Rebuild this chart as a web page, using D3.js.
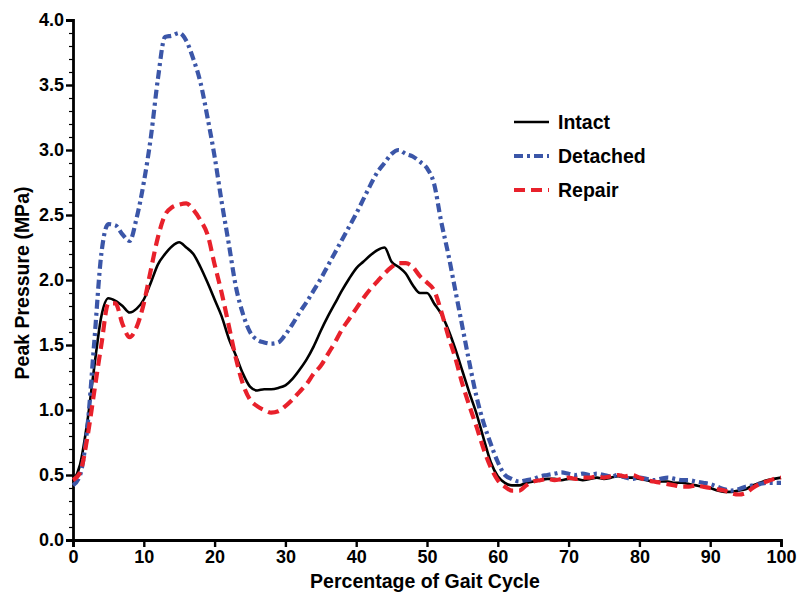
<!DOCTYPE html>
<html>
<head>
<meta charset="utf-8">
<script src="https://cdn.jsdelivr.net/npm/d3@7"></script>
<style>
  body { margin: 0; background: #fff; }
  text { font-family: "Liberation Sans", Arial, sans-serif; font-weight: bold; }
</style>
</head>
<body>
<div id="visContainer"></div>
<script>
'use strict';

// percentage of gait cycle (x values, 1% steps)
const gaitPct = d3.range(0, 101);

// peak pressure (MPa), one value per percent
const intact = [0.45,0.58,0.90,1.33,1.72,1.86,1.84,1.80,1.75,1.78,
  1.85,1.98,2.12,2.20,2.26,2.29,2.25,2.20,2.10,1.98,
  1.85,1.72,1.55,1.42,1.28,1.18,1.15,1.16,1.16,1.17,
  1.19,1.24,1.31,1.39,1.49,1.61,1.72,1.82,1.92,2.01,
  2.09,2.14,2.19,2.23,2.25,2.14,2.10,2.05,1.96,1.90,
  1.90,1.82,1.74,1.62,1.47,1.30,1.13,0.97,0.78,0.60,
  0.49,0.44,0.42,0.42,0.44,0.45,0.46,0.47,0.47,0.46,
  0.47,0.47,0.46,0.47,0.48,0.47,0.48,0.49,0.48,0.48,
  0.47,0.46,0.45,0.45,0.45,0.44,0.44,0.43,0.42,0.41,
  0.40,0.38,0.37,0.37,0.38,0.39,0.42,0.44,0.46,0.47,0.48];

const detached = [0.42,0.50,0.85,1.52,2.20,2.43,2.42,2.35,2.30,2.48,
  2.75,3.10,3.55,3.87,3.88,3.90,3.84,3.70,3.52,3.25,
  2.95,2.60,2.28,1.95,1.74,1.60,1.54,1.52,1.51,1.52,
  1.58,1.66,1.75,1.83,1.92,2.01,2.11,2.21,2.31,2.41,
  2.51,2.62,2.73,2.83,2.90,2.97,3.00,2.97,2.95,2.91,
  2.86,2.74,2.45,2.20,1.92,1.64,1.36,1.10,0.90,0.74,
  0.60,0.50,0.47,0.45,0.46,0.47,0.49,0.50,0.51,0.52,
  0.51,0.50,0.51,0.50,0.51,0.50,0.49,0.50,0.48,0.47,
  0.48,0.47,0.46,0.47,0.48,0.47,0.46,0.46,0.45,0.44,
  0.43,0.41,0.39,0.38,0.39,0.41,0.42,0.43,0.44,0.44,0.44];

const repair = [0.46,0.52,0.78,1.14,1.50,1.82,1.82,1.66,1.56,1.64,
  1.82,2.08,2.33,2.50,2.56,2.58,2.59,2.54,2.46,2.35,
  2.12,1.90,1.65,1.40,1.20,1.08,1.03,1.00,0.98,0.99,
  1.03,1.08,1.14,1.20,1.28,1.34,1.43,1.52,1.62,1.70,
  1.78,1.86,1.93,1.99,2.05,2.10,2.13,2.13,2.10,2.03,
  1.98,1.92,1.76,1.57,1.40,1.20,1.03,0.87,0.70,0.56,
  0.46,0.41,0.38,0.38,0.42,0.45,0.46,0.47,0.46,0.47,
  0.48,0.47,0.48,0.48,0.49,0.48,0.49,0.50,0.49,0.50,
  0.48,0.46,0.45,0.44,0.43,0.42,0.41,0.41,0.42,0.41,
  0.40,0.39,0.38,0.36,0.35,0.36,0.40,0.43,0.45,0.47,0.48];

const seriesNames = ["Intact", "Detached", "Repair"];
const xTicks = [0, 10, 20, 30, 40, 50, 60, 70, 80, 90, 100];
const yTicks = [0, 0.5, 1, 1.5, 2, 2.5, 3, 3.5, 4];

// styles per series
const styles = {
  "Intact":   {color: "#000000", width: 2.6, dash: null},
  "Detached": {color: "#3b56a8", width: 4.2, dash: "9,4,3,4"},
  "Repair":   {color: "#e8212b", width: 4.2, dash: "11,6"}
};

var svg = d3.select('#visContainer')
    .append('svg')
    .attr('width', 799)
    .attr('height', 597);

var margin = {top: 20, right: 18, bottom: 57, left: 73},
    width = 799 - margin.left - margin.right,
    height = 597 - margin.top - margin.bottom;

var x = d3.scaleLinear().domain([0, 100]).range([0, width]);
var y = d3.scaleLinear().domain([0, 4]).range([height, 0]);

var g = svg.append('g')
    .attr('transform', 'translate(' + margin.left + ',' + margin.top + ')');

// minor y ticks every 0.1
g.append('g')
    .attr('class', 'axis axis--y-minor')
    .call(d3.axisLeft(y).tickValues(d3.range(0, 41).map(function(i) { return i / 10; }))
      .tickSize(4).tickFormat(''))
    .call(function(a) { a.select('.domain').remove(); })
    .selectAll('line').attr('stroke', '#000').attr('stroke-width', 1.2);

// y axis
g.append('g')
    .attr('class', 'axis axis--y')
    .call(d3.axisLeft(y).tickValues(yTicks).tickSize(7).tickPadding(2)
      .tickFormat(d3.format('.1f')));

// x axis
g.append('g')
    .attr('class', 'axis axis--x')
    .attr('transform', 'translate(0,' + height + ')')
    .call(d3.axisBottom(x).tickValues(xTicks).tickSize(7).tickPadding(3));

g.selectAll('.axis--y .domain, .axis--x .domain')
    .attr('stroke', '#000').attr('stroke-width', 2.8);
g.selectAll('.axis--y .tick line, .axis--x .tick line')
    .attr('stroke', '#000').attr('stroke-width', 2.4);
g.selectAll('.axis text')
    .attr('fill', '#000')
    .style('font-size', '18px')
    .style('font-family', '"Liberation Sans", Arial, sans-serif')
    .style('font-weight', 'bold');

// lines
var line = d3.line()
    .x(function(d) { return x(d[0]); })
    .y(function(d) { return y(d[1]); })
    .curve(d3.curveMonotoneX);

var dataBySeries = {
  "Intact": intact,
  "Detached": detached,
  "Repair": repair
};

// draw order: intact under, then detached, then repair on top
["Intact", "Detached", "Repair"].forEach(function(name) {
  var st = styles[name];
  var pts = gaitPct.map(function(p, i) { return [p, dataBySeries[name][i]]; });
  g.append('path')
    .datum(pts)
    .attr('fill', 'none')
    .attr('stroke', st.color)
    .attr('stroke-width', st.width)
    .attr('stroke-linejoin', 'round')
    .attr('stroke-dasharray', st.dash)
    .attr('d', line);
});

// legend
var legend = svg.append('g').attr('transform', 'translate(514,122)');
seriesNames.forEach(function(name, i) {
  var st = styles[name];
  var row = legend.append('g').attr('transform', 'translate(0,' + (i * 34) + ')');
  row.append('line')
    .attr('x1', 0).attr('x2', 35)
    .attr('y1', 0).attr('y2', 0)
    .attr('stroke', st.color)
    .attr('stroke-width', st.width)
    .attr('stroke-dasharray', st.dash);
  row.append('text')
    .attr('x', 44).attr('y', 0)
    .attr('dy', '0.36em')
    .style('font-size', '19.5px')
    .text(name);
});

// axis titles
svg.append('text')
    .attr('x', margin.left + width / 2 - 2)
    .attr('y', 588)
    .attr('text-anchor', 'middle')
    .style('font-size', '19.5px')
    .text('Percentage of Gait Cycle');

svg.append('text')
    .attr('transform', 'translate(29,' + (margin.top + height / 2 + 3) + ') rotate(-90)')
    .attr('text-anchor', 'middle')
    .style('font-size', '19.5px')
    .text('Peak Pressure (MPa)');
</script>
</body>
</html>
